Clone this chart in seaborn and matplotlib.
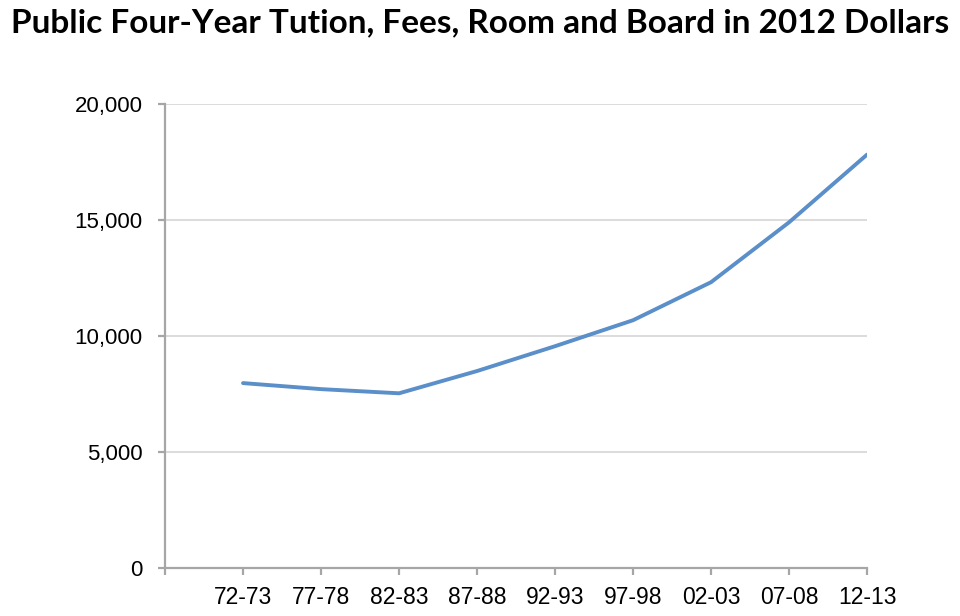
import matplotlib
matplotlib.use("Agg")
import matplotlib.pyplot as plt
import seaborn as sns
import pandas as pd

# Academic years and cost in 2012 dollars
years = ["72-73", "77-78", "82-83", "87-88", "92-93", "97-98", "02-03", "07-08", "12-13"]
cost = [7970, 7710, 7530, 8490, 9560, 10680, 12320, 14900, 17820]

title = "Public Four-Year Tution, Fees, Room and Board in 2012 Dollars"
line_color = "#5b8fc9"
axis_color = "#a6a6a6"

sns.set_theme(style="white")
plt.rcParams["font.family"] = ["Liberation Sans", "DejaVu Sans"]

df = pd.DataFrame({"year": years, "cost": cost})

fig = plt.figure(figsize=(9.6, 6.16), dpi=100)
ax = fig.add_axes([0.1719, 0.0779, 0.7313, 0.7533])

sns.lineplot(data=df, x="year", y="cost", color=line_color, linewidth=2.8, ax=ax)

ax.set_xlim(-1, len(years) - 1)
ax.set_ylim(0, 20000)
ax.set_yticks(range(0, 20001, 5000))
ax.set_yticklabels([f"{v:,}" for v in range(0, 20001, 5000)], fontsize=16)
ax.set_xticks(range(-1, len(years)))
ax.set_xticklabels([""] + years, fontsize=16.5)

for v in range(5000, 20001, 5000):
    ax.axhline(v, color="#d9d9d9", linewidth=1.3, zorder=0)

for side in ["top", "right"]:
    ax.spines[side].set_visible(False)
for side in ["left", "bottom"]:
    ax.spines[side].set_color(axis_color)
    ax.spines[side].set_linewidth(1.6)

ax.tick_params(axis="both", which="both", length=5, width=1.6, color=axis_color,
               direction="out", left=True, bottom=True, labelcolor="black")
ax.tick_params(axis="x", pad=8)
ax.tick_params(axis="y", pad=11)
ax.set_xlabel("")
ax.set_ylabel("")

fig.text(0.5, 0.963, title, ha="center", va="center", fontsize=24,
         fontweight="bold", color="black", family=["Lato", "DejaVu Sans"])

fig.savefig("out.png", dpi=100)
